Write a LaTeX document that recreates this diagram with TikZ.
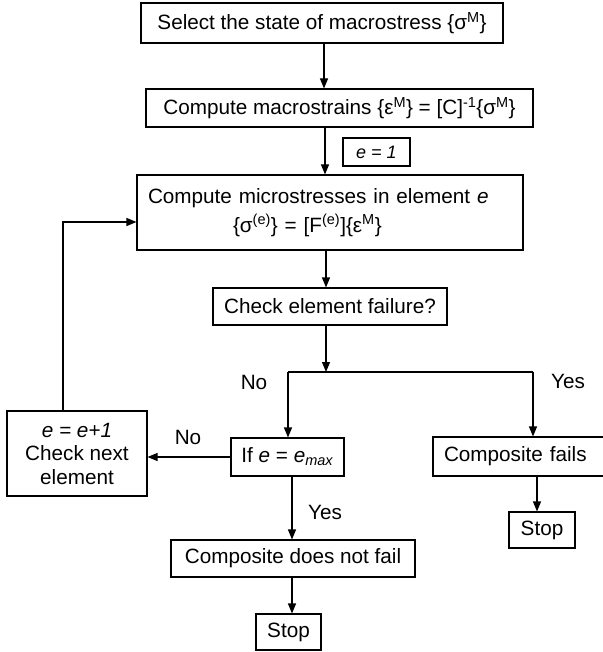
\documentclass[tikz,border=0pt]{standalone}
\usepackage{fontspec}
\setmainfont{Liberation Sans}
\usetikzlibrary{arrows.meta}
\begin{document}
\begin{tikzpicture}[x=1pt,y=-1pt,
  box/.style={draw, line width=1.1pt, inner sep=0pt, font=\fontsize{20.7}{24}\selectfont},
  arr/.style={line width=1.1pt, -{Triangle[length=10pt,width=8pt]}},
  ln/.style={line width=1.1pt},
  lbl/.style={font=\fontsize{20.7}{24}\selectfont, inner sep=0pt}]
\useasboundingbox (0,0) rectangle (602,652);
\node[box, minimum width=362, minimum height=40] (b1) at (322,23) {Select the state of macrostress \{σ\textsuperscript{M}\}};
\node[box, minimum width=387, minimum height=38] (b2) at (339.5,108) {Compute macrostrains \{ε\textsuperscript{M}\} = [C]\textsuperscript{-1}\{σ\textsuperscript{M}\}};
\node[box, minimum width=67, minimum height=28, font=\fontsize{18}{20}\selectfont\itshape] (e1) at (376.5,152) {e = 1};
\node[box, minimum height=75, text width=364, align=left, inner xsep=11pt] (b3) at (330,212.5) {Compute microstresses in element \textit{e}\\[5pt]\hspace*{85pt}\{σ\textsuperscript{(e)}\} = [F\textsuperscript{(e)}]\{ε\textsuperscript{M}\}};
\node[box, minimum width=234, minimum height=37] (b4) at (330,306.5) {Check element failure?};
\node[box, minimum width=113, minimum height=38] (bif) at (287.5,457) {If \textit{e} = \textit{e}\textsubscript{\textit{max}}};
\node[box, minimum width=140, minimum height=85, align=center, font=\fontsize{20.7}{23.5}\selectfont] (binc) at (77,453.5) {\textit{e = e+1}\\Check next\\element};
\node[box, minimum height=39, text width=168, align=left, inner xsep=11pt] (bfail) at (528,456.5) {Composite fails};
\node[box, minimum width=66, minimum height=36] (s1) at (542,530) {Stop};
\node[box, minimum width=244, minimum height=37] (bnf) at (293,558.5) {Composite does not fail};
\node[box, minimum width=65, minimum height=36] (s2) at (288.5,632) {Stop};
\node[lbl] (lno1) at (254,382) {No};
\node[lbl] (lyes1) at (568,381) {Yes};
\node[lbl] (lno2) at (188,437) {No};
\node[lbl] (lyes2) at (325,512) {Yes};
\coordinate (c1) at (325,0);
\coordinate (c2) at (292,0);
\coordinate (c3) at (292,0);
\coordinate (c4) at (537,0);
\coordinate (c0) at (324,0);
\coordinate (j) at (326,372);
\coordinate (jl) at (288,372);
\coordinate (jr) at (533,372);
\coordinate (lp) at (63,222);
\draw[arr] (b1.south -| c0) -- (b2.north -| c0);
\draw[arr] (b2.south -| c1) -- (b3.north -| c1);
\draw[arr] (b3.south -| j) -- (b4.north -| j);
\draw[arr] (b4.south -| j) -- (j);
\draw[ln] (jl) -- (jr);
\draw[arr] (jl) -- (bif.north -| jl);
\draw[arr] (jr) -- (bfail.north -| jr);
\draw[arr] (bif.west) -- (binc.east |- bif.west);
\draw[arr] (binc.north -| lp) -- (lp) -- (b3.west |- lp);
\draw[arr] (bif.south -| c2) -- (bnf.north -| c2);
\draw[arr] (bnf.south -| c3) -- (s2.north -| c3);
\draw[arr] (bfail.south -| c4) -- (s1.north -| c4);
\end{tikzpicture}
\end{document}
